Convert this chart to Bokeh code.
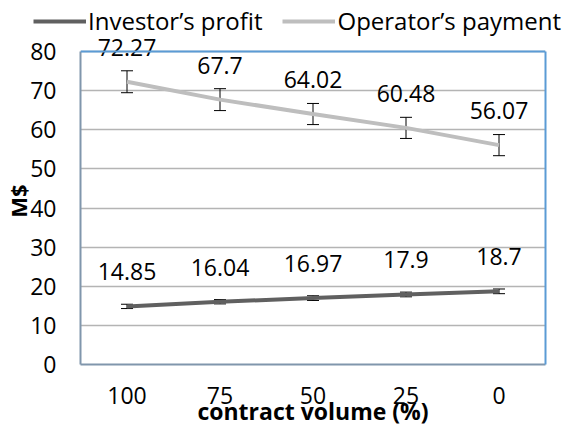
from bokeh.plotting import figure
from bokeh.models import (ColumnDataSource, Whisker, TeeHead, LabelSet, Span,
                          Legend, LegendItem, FixedTicker, FactorRange, Range1d, LinearAxis)
from bokeh.core.properties import value
from bokeh.embed import file_html
from bokeh.resources import INLINE

categories = ["100", "75", "50", "25", "0"]
investor_profit = [14.85, 16.04, 16.97, 17.9, 18.7]
investor_err = [0.55, 0.55, 0.6, 0.6, 0.6]
operator_payment = [72.27, 67.7, 64.02, 60.48, 56.07]
operator_err = [2.8, 2.8, 2.7, 2.7, 2.7]
y_ticks = [0, 10, 20, 30, 40, 50, 60, 70, 80]
y_max = 80
series_names = ["Investor’s profit", "Operator’s payment"]

FONT = "Open Sans"
INV_COLOR = "#606060"
OP_COLOR = "#BEBEBE"
AXIS_COLOR = "#8096AC"
BORDER_COLOR = "#5B9BD5"

src = ColumnDataSource(dict(
    cat=categories,
    inv=investor_profit,
    inv_lo=[v - e for v, e in zip(investor_profit, investor_err)],
    inv_hi=[v + e for v, e in zip(investor_profit, investor_err)],
    inv_txt=[f"{v:g}" for v in investor_profit],
    op=operator_payment,
    op_lo=[v - e for v, e in zip(operator_payment, operator_err)],
    op_hi=[v + e for v, e in zip(operator_payment, operator_err)],
    op_txt=[f"{v:g}" for v in operator_payment],
))

# ---- legend strip (separate root so its frame spans the full width) ----
lg = figure(width=562, height=38, x_range=Range1d(0, 1), y_range=Range1d(0, 1),
            output_backend="svg", toolbar_location=None, x_axis_location=None,
            y_axis_location=None, min_border=0)
lg.outline_line_color = None
lg.grid.visible = False
lg.background_fill_color = "white"
lg.border_fill_color = "white"
dummy = ColumnDataSource(dict(x=[5], y=[5]))
d_inv = lg.line("x", "y", source=dummy, line_color=INV_COLOR, line_width=4)
d_op = lg.line("x", "y", source=dummy, line_color=OP_COLOR, line_width=4)
legend = Legend(items=[LegendItem(label=series_names[0], renderers=[d_inv]),
                       LegendItem(label=series_names[1], renderers=[d_op])],
                location=(33, 1), orientation="horizontal", padding=0, margin=0,
                spacing=20, glyph_width=53, glyph_height=20, label_standoff=2,
                label_text_font=FONT, label_text_font_size="24px", label_text_color="black",
                border_line_color=None, background_fill_alpha=0)
lg.add_layout(legend, "center")
lg.styles = {"margin-bottom": "-11px"}

# ---- main chart ----
p = figure(width=562, height=405, x_range=FactorRange(*categories, range_padding=0),
           y_range=Range1d(0, 83.58), output_backend="svg", toolbar_location=None,
           min_border_left=77, min_border_right=17, min_border_top=10, min_border_bottom=68)
p.background_fill_color = "white"
p.border_fill_alpha = 0

p.outline_line_color = None

p.line("cat", "inv", source=src, line_color=INV_COLOR, line_width=4)
p.line("cat", "op", source=src, line_color=OP_COLOR, line_width=4)

for lo, hi in (("inv_lo", "inv_hi"), ("op_lo", "op_hi")):
    w = Whisker(base="cat", lower=lo, upper=hi, source=src, line_color="black", line_width=1,
                upper_head=TeeHead(size=12, line_color="black", line_width=1),
                lower_head=TeeHead(size=12, line_color="black", line_width=1))
    p.add_layout(w)

for ycol, tcol in (("inv", "inv_txt"), ("op", "op_txt")):
    ls = LabelSet(x="cat", y=ycol, text=tcol, source=src, text_align="center",
                  text_baseline="alphabetic", y_offset=26, text_font=value(FONT),
                  text_font_size=value("23px"), text_color="black")
    p.add_layout(ls)

p.add_layout(Span(location=y_max, dimension="width", line_color=BORDER_COLOR, line_width=2))

p.xgrid.visible = False
p.ygrid.grid_line_color = "#B4B4B4"
p.ygrid.grid_line_width = 1.5
p.yaxis.ticker = FixedTicker(ticks=y_ticks)
p.yaxis.bounds = (0, y_max)
for ax in (p.xaxis[0], p.yaxis[0]):
    ax.axis_line_color = AXIS_COLOR
    ax.axis_line_width = 2
    ax.major_tick_line_color = None
    ax.minor_tick_line_color = None
    ax.major_tick_out = 0
    ax.major_tick_in = 0
    ax.major_label_text_font = FONT
    ax.major_label_text_font_size = "23px"
    ax.major_label_text_color = "black"
    ax.axis_label_text_font = FONT
    ax.axis_label_text_font_style = "bold"
    ax.axis_label_text_color = "black"
p.yaxis.major_label_standoff = 24
p.xaxis.major_label_standoff = 22
p.yaxis.axis_label = "M$"
p.yaxis.axis_label_text_font_size = "22px"
p.yaxis.axis_label_standoff = -6
p.xaxis.axis_label = "contract volume (%)"
p.xaxis.axis_label_text_font_size = "23px"
p.xaxis.axis_label_standoff = -12

right_axis = LinearAxis(ticker=FixedTicker(ticks=[]), bounds=(0, y_max),
                        axis_line_color=BORDER_COLOR, axis_line_width=2,
                        major_tick_line_color=None, minor_tick_line_color=None,
                        major_label_text_font_size="0px")
p.add_layout(right_axis, "right")

open("out.html", "w").write(file_html([lg, p], INLINE))
